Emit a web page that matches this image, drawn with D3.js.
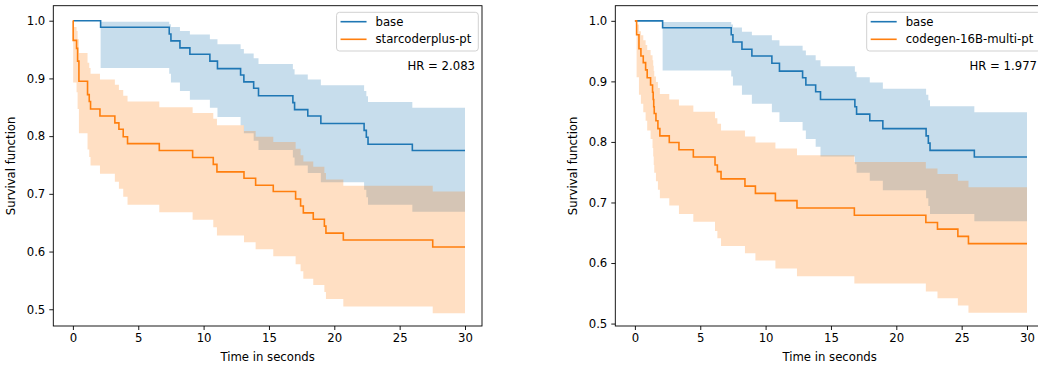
<!DOCTYPE html>
<html>
<head>
<meta charset="utf-8">
<script src="https://cdn.jsdelivr.net/npm/d3@7"></script>
<style>
  html, body { margin: 0; padding: 0; background: #fff; }
  svg text { font-family: "DejaVu Sans", sans-serif; fill: #000; }
</style>
</head>
<body>
<svg id="chart" width="1038" height="365"></svg>
<script>
// Kaplan–Meier estimates: event times (s), survival, 95% CI lower / upper
const baseTimes = [0, 2.12, 7.37, 7.50, 8.19, 8.95, 10.48, 11.06, 12.83, 13.08, 13.83, 14.20, 16.83, 16.96, 17.97, 18.97, 22.28, 22.45, 22.58, 25.97];
const baseSurv  = [1, 0.9886, 0.977, 0.965, 0.953, 0.942, 0.930, 0.917, 0.906, 0.894, 0.883, 0.870, 0.858, 0.846, 0.835, 0.822, 0.810, 0.798, 0.786, 0.775];
const baseLower = [1, 0.918, 0.908, 0.893, 0.878, 0.863, 0.849, 0.833, 0.819, 0.805, 0.792, 0.776, 0.763, 0.749, 0.736, 0.720, 0.707, 0.694, 0.681, 0.669];
const baseUpper = [1, 0.998, 0.994, 0.989, 0.982, 0.976, 0.968, 0.959, 0.951, 0.943, 0.935, 0.925, 0.916, 0.907, 0.898, 0.888, 0.878, 0.869, 0.859, 0.849];

const starTimes = [0, 0.02, 0.28, 0.36, 0.46, 1.12, 1.25, 1.35, 2.07, 3.21, 3.52, 3.85, 4.18, 6.61, 9.16, 10.74, 11.02, 13.09, 13.98, 15.33, 17.04, 17.42, 17.63, 18.39, 19.24, 19.36, 20.69, 27.53];
const starSurv  = [1, 0.966, 0.952, 0.930, 0.895, 0.872, 0.860, 0.847, 0.835, 0.823, 0.812, 0.799, 0.787, 0.775, 0.763, 0.751, 0.738, 0.727, 0.715, 0.704, 0.691, 0.679, 0.667, 0.656, 0.644, 0.632, 0.620, 0.608];
const starLower = [1, 0.893, 0.876, 0.847, 0.805, 0.777, 0.764, 0.749, 0.735, 0.721, 0.709, 0.695, 0.681, 0.668, 0.655, 0.642, 0.628, 0.616, 0.604, 0.592, 0.578, 0.566, 0.553, 0.542, 0.530, 0.518, 0.505, 0.493];
const starUpper = [1, 0.989, 0.982, 0.968, 0.944, 0.927, 0.918, 0.908, 0.898, 0.889, 0.880, 0.870, 0.860, 0.850, 0.840, 0.830, 0.819, 0.809, 0.799, 0.790, 0.778, 0.767, 0.756, 0.747, 0.736, 0.725, 0.714, 0.704];

const codeTimes = [0, 0.13, 0.31, 0.46, 0.64, 0.82, 0.94, 1.20, 1.35, 1.40, 1.44, 1.48, 1.61, 1.76, 1.91, 2.63, 3.37, 4.47, 6.13, 6.31, 6.59, 8.42, 9.22, 10.75, 12.40, 16.79, 22.26, 23.15, 24.71, 25.52];
const codeSurv  = [1, 0.977, 0.954, 0.942, 0.931, 0.919, 0.906, 0.894, 0.882, 0.870, 0.858, 0.847, 0.835, 0.822, 0.810, 0.799, 0.787, 0.775, 0.762, 0.751, 0.739, 0.727, 0.715, 0.703, 0.691, 0.679, 0.667, 0.656, 0.644, 0.632];
const codeLower = [1, 0.907, 0.878, 0.863, 0.849, 0.835, 0.819, 0.805, 0.790, 0.776, 0.762, 0.749, 0.735, 0.721, 0.707, 0.695, 0.681, 0.668, 0.653, 0.641, 0.628, 0.616, 0.604, 0.591, 0.578, 0.566, 0.553, 0.542, 0.530, 0.518];
const codeUpper = [1, 0.994, 0.983, 0.976, 0.968, 0.960, 0.952, 0.943, 0.935, 0.926, 0.917, 0.908, 0.899, 0.889, 0.879, 0.870, 0.860, 0.850, 0.839, 0.830, 0.819, 0.809, 0.799, 0.789, 0.778, 0.767, 0.756, 0.747, 0.736, 0.725];

const timelineEnd = 30;
const xTicks = [0, 5, 10, 15, 20, 25, 30];
const yTicks = [0.5, 0.6, 0.7, 0.8, 0.9, 1.0];
const labels = ["base", "starcoderplus-pt", "codegen-16B-multi-pt"];
const hazardRatios = ["HR = 2.083", "HR = 1.977"];

const BLUE = "#1f77b4", ORANGE = "#ff7f0e";
const FONT = 11.7;

function series(times, surv, lower, upper) {
  const pts = times.map((t, i) => ({ t, s: surv[i], lo: lower[i], hi: upper[i] }));
  const last = pts[pts.length - 1];
  pts.push({ t: timelineEnd, s: last.s, lo: last.lo, hi: last.hi });
  return pts;
}

const panels = [
  { left: 53.3, yDomain: [0.471, 1.026], other: series(starTimes, starSurv, starLower, starUpper), label: labels[1], hr: hazardRatios[0] },
  { left: 615.3, yDomain: [0.496, 1.025], other: series(codeTimes, codeSurv, codeLower, codeUpper), label: labels[2], hr: hazardRatios[1] }
];
const base = series(baseTimes, baseSurv, baseLower, baseUpper);

const svg = d3.select("#chart");
const plotTop = 5.7, plotBottom = 326, plotWidth = 428.7;

panels.forEach((p, pi) => {
  const right = p.left + plotWidth;
  const x = d3.scaleLinear().domain([-1.5, 31.3]).range([p.left, right]);
  const y = d3.scaleLinear().domain(p.yDomain).range([plotBottom, plotTop]);
  const g = svg.append("g");

  const clipId = "clip" + pi;
  svg.append("clipPath").attr("id", clipId)
    .append("rect").attr("x", p.left).attr("y", plotTop).attr("width", plotWidth).attr("height", plotBottom - plotTop);
  const plot = g.append("g").attr("clip-path", `url(#${clipId})`);

  const area = d3.area().curve(d3.curveStepAfter)
    .x(d => x(d.t)).y0(d => y(d.lo)).y1(d => y(d.hi));
  const line = d3.line().curve(d3.curveStepAfter)
    .x(d => x(d.t)).y(d => y(d.s));

  [[base, BLUE], [p.other, ORANGE]].forEach(([data, color]) => {
    plot.append("path").attr("d", area(data))
      .attr("fill", color).attr("fill-opacity", 0.25).attr("stroke", "none");
    plot.append("path").attr("d", line(data))
      .attr("fill", "none").attr("stroke", color).attr("stroke-width", 1.6);
  });

  // axes
  const xAxis = d3.axisBottom(x).tickValues(xTicks).tickFormat(d3.format("d")).tickSize(4).tickPadding(4);
  const yAxis = d3.axisLeft(y).tickValues(yTicks).tickFormat(d3.format(".1f")).tickSize(4).tickPadding(4);
  const gx = g.append("g").attr("transform", `translate(0,${plotBottom})`).call(xAxis);
  const gy = g.append("g").attr("transform", `translate(${p.left},0)`).call(yAxis);
  [gx, gy].forEach(a => {
    a.select(".domain").remove();
    a.selectAll("line").attr("stroke", "#000").attr("stroke-width", 0.9);
    a.selectAll("text").attr("font-size", FONT).attr("fill", "#000")
      .attr("font-family", "DejaVu Sans, sans-serif");
  });

  // frame
  g.append("rect").attr("x", p.left).attr("y", plotTop).attr("width", plotWidth).attr("height", plotBottom - plotTop)
    .attr("fill", "none").attr("stroke", "#000").attr("stroke-width", 0.9);

  // axis titles
  g.append("text").attr("x", (p.left + right) / 2).attr("y", 361)
    .attr("text-anchor", "middle").attr("font-size", FONT).text("Time in seconds");
  g.append("text").attr("transform", `translate(${p.left - 38.5},${(plotTop + plotBottom) / 2}) rotate(-90)`)
    .attr("text-anchor", "middle").attr("font-size", FONT).text("Survival function");

  // legend
  const lg = g.append("g");
  const probe = lg.append("text").attr("font-size", FONT).text(p.label);
  const tw = probe.node().getComputedTextLength();
  probe.remove();
  const boxW = 39 + tw + 7;
  const bx = right - 3.7 - boxW;
  lg.append("rect").attr("x", bx).attr("y", 12.3).attr("width", boxW).attr("height", 38.7)
    .attr("rx", 3).attr("fill", "#fff").attr("fill-opacity", 0.8)
    .attr("stroke", "#cccccc").attr("stroke-width", 0.9);
  [[labels[0], BLUE, 21.7], [p.label, ORANGE, 39.3]].forEach(([txt, color, yy]) => {
    lg.append("line").attr("x1", bx + 4).attr("x2", bx + 30).attr("y1", yy).attr("y2", yy)
      .attr("stroke", color).attr("stroke-width", 1.6);
    lg.append("text").attr("x", bx + 39).attr("y", yy).attr("dy", "0.35em")
      .attr("font-size", FONT).text(txt);
  });

  g.append("text").attr("x", right - 7).attr("y", 66).attr("dy", "0.35em")
    .attr("text-anchor", "end").attr("font-size", FONT).text(p.hr);
});
</script>
</body>
</html>
